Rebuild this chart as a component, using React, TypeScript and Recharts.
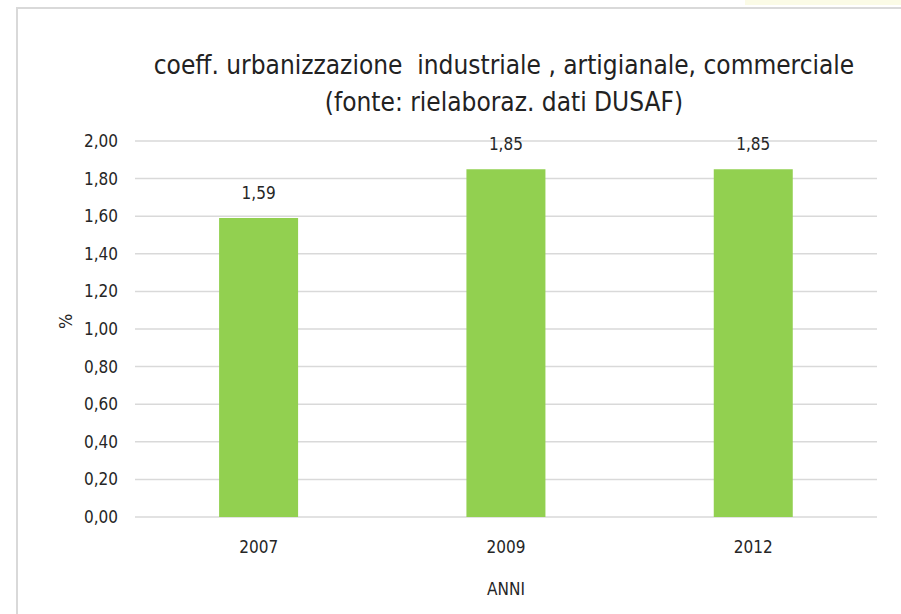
import React from "react";
import { BarChart, Bar, XAxis, YAxis, CartesianGrid, LabelList } from "recharts";

const years = ["2007", "2009", "2012"];
const values = [1.59, 1.85, 1.85];
const yTicks = [0, 0.2, 0.4, 0.6, 0.8, 1.0, 1.2, 1.4, 1.6, 1.8, 2.0];
const titleLines = [
  "coeff. urbanizzazione  industriale , artigianale, commerciale",
  "(fonte: rielaboraz. dati DUSAF)",
];
const xAxisTitle = "ANNI";
const yAxisTitle = "%";

const data = years.map((y, i) => ({ year: y, value: values[i] }));

const FONT = "'DejaVu Sans Condensed', 'DejaVu Sans', sans-serif";
const fmt = (v: number) => v.toFixed(2).replace(".", ",");

export default function App() {
  return (
    <div style={{ position: "absolute", left: 0, top: 0, width: 901, height: 614, background: "#fff", overflow: "hidden", fontFamily: FONT }}>
      <div style={{ position: "absolute", left: 745, top: 0, width: 156, height: 5, background: "#fbfbe6" }} />
      <div style={{ position: "absolute", left: 16, top: 7, width: 901, height: 640, borderLeft: "2px solid #d9d9d9", borderTop: "2px solid #d9d9d9", boxSizing: "border-box" }} />
      <div style={{ position: "absolute", left: 0, top: 47, width: 1008, textAlign: "center", fontSize: 26, lineHeight: "37px", color: "#222", whiteSpace: "pre" }}>
        {titleLines[0]}
        <br />
        {titleLines[1]}
      </div>
      <div style={{ position: "absolute", left: 0, top: 0 }}>
        <BarChart width={901} height={614} data={data} margin={{ top: 141, right: 24, bottom: 0, left: 0 }} barCategoryGap="34%">
          <CartesianGrid vertical={false} stroke="#d9d9d9" strokeWidth={1.5} />
          <XAxis
            dataKey="year"
            height={97}
            axisLine={false}
            tickLine={false}
            tickSize={0}
            tickMargin={24}
            tick={{ fill: "#262626", fontSize: 17, fontFamily: FONT }}
            label={{ value: xAxisTitle, position: "insideBottom", offset: 19, fill: "#262626", fontSize: 17, fontFamily: FONT }}
          />
          <YAxis
            width={135}
            domain={[0, 2]}
            ticks={yTicks}
            tickFormatter={fmt}
            axisLine={false}
            tickLine={false}
            tickSize={0}
            tickMargin={17}
            tick={{ fill: "#262626", fontSize: 17, fontFamily: FONT }}
            label={{ value: yAxisTitle, angle: -90, position: "insideLeft", offset: 66, fill: "#262626", fontSize: 18, fontFamily: FONT }}
          />
          <Bar dataKey="value" fill="#92d050" isAnimationActive={false}>
            <LabelList dataKey="value" position="top" offset={19} formatter={(v: any) => fmt(Number(v))} fill="#262626" fontSize={17} fontFamily={FONT} />
          </Bar>
        </BarChart>
      </div>
    </div>
  );
}
